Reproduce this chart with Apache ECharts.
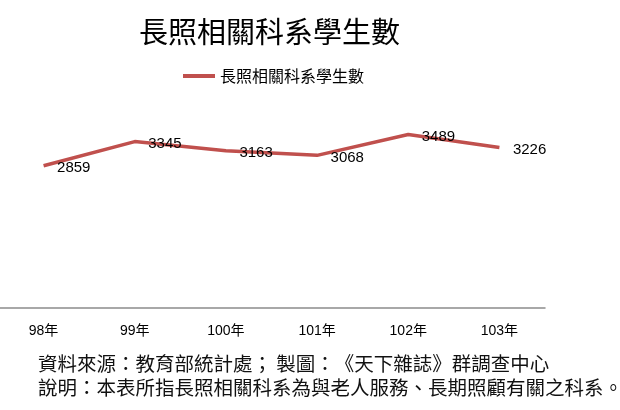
<!DOCTYPE html>
<html>
<head>
<meta charset="utf-8">
<script src="https://cdn.jsdelivr.net/npm/echarts@6/dist/echarts.min.js"></script>
<style>
html,body{margin:0;padding:0;background:#fff;}
#chart{width:620px;height:410px;}
</style>
</head>
<body>
<div id="chart"></div>
<script>
var categories = ['98年', '99年', '100年', '101年', '102年', '103年'];
var students = [2859, 3345, 3163, 3068, 3489, 3226];
var seriesName = '長照相關科系學生數';
var chartTitle = '長照相關科系學生數';
var sourceParts = ['資料來源：教育部統計處； 製圖：', '《天下雜誌》群調查中心'];
var noteText = '說明：本表所指長照相關科系為與老人服務、長期照顧有關之科系。';

var cjk = "'Noto Sans CJK TC', 'Noto Sans CJK SC', sans-serif";
var footStyle = {fontFamily: cjk, fontSize: 19.5, fontWeight: 'normal', color: '#111', lineHeight: 24};
var chart = echarts.init(document.getElementById('chart'), null, {renderer: 'canvas'});
chart.setOption({
  backgroundColor: '#ffffff',
  animation: false,
  title: [
    {
      text: chartTitle,
      left: 139,
      top: 17,
      padding: 0,
      textStyle: {fontFamily: cjk, fontSize: 29, fontWeight: 'normal', color: '#000'}
    },
    {
      text: sourceParts.map(function (s) { return '{f|' + s + '}'; }).join('') + '\n{f|' + noteText + '}',
      left: 38,
      top: 352,
      padding: 0,
      textStyle: {
        fontFamily: cjk, fontSize: 19.5, fontWeight: 'normal', color: '#111', lineHeight: 24,
        rich: {f: footStyle}
      }
    }
  ],
  legend: {
    data: [seriesName],
    left: 183,
    top: 68,
    padding: 0,
    icon: 'rect',
    itemWidth: 32,
    itemHeight: 4,
    itemStyle: {color: '#c0504d', opacity: 1},
    textStyle: {fontFamily: cjk, fontSize: 16, color: '#000'}
  },
  grid: {left: -2, right: 75, top: 109, bottom: 102, outerBoundsMode: 'none', containLabel: false},
  xAxis: {
    type: 'category',
    data: categories,
    boundaryGap: true,
    axisLine: {show: true, lineStyle: {color: '#8c8c8c', width: 1.5}},
    axisTick: {show: false},
    splitLine: {show: false},
    axisLabel: {margin: 16, fontSize: 14, color: '#000', fontFamily: "'Liberation Sans', 'Noto Sans CJK TC', sans-serif"}
  },
  yAxis: {
    type: 'value',
    min: 0,
    max: 4000,
    show: false
  },
  series: [{
    name: seriesName,
    type: 'line',
    data: students,
    symbol: 'circle',
    symbolSize: 1,
    showSymbol: true,
    showAllSymbol: true,
    itemStyle: {color: 'rgba(192,80,77,0)'},
    color: '#c0504d',
    lineStyle: {width: 3.5, color: '#c0504d'},
    label: {
      show: true,
      position: 'right',
      distance: 13,
      offset: [0, 2],
      fontSize: 15,
      color: '#000',
      fontFamily: "'Liberation Sans', sans-serif"
    }
  }]
});
</script>
</body>
</html>
